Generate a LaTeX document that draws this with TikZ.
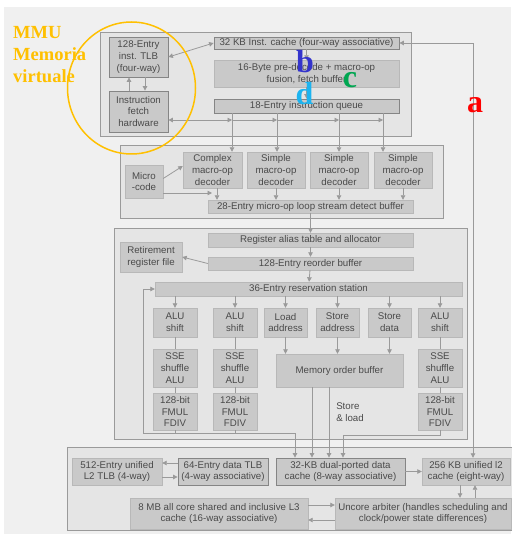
\documentclass[tikz,border=0pt]{standalone}
\usepackage{fontspec}
\setmainfont{Liberation Sans}
\newfontfamily\lettersfont{Liberation Serif}
\usepackage{tikz}
\usetikzlibrary{shapes,arrows.meta,positioning}
\definecolor{boxgray}{HTML}{C9C9C9}
\definecolor{framegray}{HTML}{E5E5E5}
\definecolor{linegray}{HTML}{9A9A9A}
\definecolor{inkgray}{HTML}{4A4A4A}
\definecolor{pagegray}{HTML}{F0F0F0}
\definecolor{mmuyellow}{HTML}{FFC000}
\definecolor{tagblue}{HTML}{3434CC}
\definecolor{taggreen}{HTML}{00A651}
\definecolor{tagcyan}{HTML}{1CB4F0}
\tikzstyle{block} = [rectangle, draw=linegray!70, fill=boxgray, text=inkgray, align=center, inner sep=0pt, font=\fontsize{9.7}{11.7}\selectfont]
\tikzstyle{edged} = [draw=black!48, line width=0.8pt]
\tikzstyle{frame} = [rectangle, draw=linegray, fill=framegray, line width=0.6pt, inner sep=0pt]
\tikzstyle{line} = [draw=linegray, line width=0.8pt, ->]
\tikzstyle{link} = [draw=linegray, line width=0.8pt]
\tikzstyle{tag} = [font=\lettersfont\bfseries\fontsize{32}{32}\selectfont, anchor=base, inner sep=0pt]

\begin{document}
\begin{tikzpicture}[x=1pt, y=-1pt, >={Triangle[length=4.5pt,width=4.5pt]}]
	\fill [white] (0,0) rectangle (511,534);
	\fill [pagegray] (4,7) rectangle (511,534);
	\useasboundingbox (0,0) rectangle (511,534);
	% Place nodes
	\node [frame, minimum width=311pt, minimum height=104pt] (fetchunit) at (255.5,84) {};
	\node [block, edged, minimum width=59pt, minimum height=40pt] (itlb) at (138.5,57) {128-Entry\\inst. TLB\\(four-way)};
	\node [block, edged, minimum width=59pt, minimum height=41pt] (ifetch) at (138.5,111.5) {Instruction\\fetch\\hardware};
	\node [block, edged, minimum width=185pt, minimum height=12pt] (icache) at (306.5,43) {32 KB Inst. cache (four-way associative)};
	\node [block, minimum width=185pt, minimum height=27pt] (predecode) at (306.5,73.5) {16-Byte pre-decode + macro-op\\fusion, fetch buffer};
	\node [block, edged, minimum width=185pt, minimum height=14pt] (iqueue) at (306.5,106) {18-Entry instruction queue};
	\node [frame, minimum width=323pt, minimum height=73pt] (decodeunit) at (281.5,181.5) {};
	\node [block, minimum width=38pt, minimum height=33pt] (ucode) at (144,181.5) {Micro\\-code};
	\node [block, minimum width=59pt, minimum height=36pt] (cdec) at (212.5,170) {Complex\\macro-op\\decoder};
	\node [block, minimum width=58pt, minimum height=36pt] (sdeca) at (276,170) {Simple\\macro-op\\decoder};
	\node [block, minimum width=58pt, minimum height=36pt] (sdecb) at (339,170) {Simple\\macro-op\\decoder};
	\node [block, minimum width=58pt, minimum height=36pt] (sdecc) at (403,170) {Simple\\macro-op\\decoder};
	\node [block, minimum width=205pt, minimum height=13pt] (lsd) at (310.5,206.5) {28-Entry micro-op loop stream detect buffer};
	\node [frame, minimum width=353pt, minimum height=211pt] (oooengine) at (290.5,333.5) {};
	\node [block, minimum width=205pt, minimum height=14pt] (rat) at (310.5,240) {Register alias table and allocator};
	\node [block, minimum width=62pt, minimum height=30pt] (rrf) at (151,257) {Retirement\\register file};
	\node [block, minimum width=205pt, minimum height=13pt] (rob) at (310.5,263.5) {128-Entry reorder buffer};
	\node [block, minimum width=307pt, minimum height=14pt] (rs) at (308.5,289) {36-Entry reservation station};
	\node [block, minimum width=44pt, minimum height=29pt] (alua) at (175,322.5) {ALU\\shift};
	\node [block, minimum width=44pt, minimum height=29pt] (alub) at (235,322.5) {ALU\\shift};
	\node [block, minimum width=43pt, minimum height=29pt] (ldaddr) at (285.5,322.5) {Load\\address};
	\node [block, minimum width=43pt, minimum height=29pt] (staddr) at (337.5,322.5) {Store\\address};
	\node [block, minimum width=43pt, minimum height=29pt] (stdata) at (389.5,322.5) {Store\\data};
	\node [block, minimum width=44pt, minimum height=29pt] (aluc) at (440,322.5) {ALU\\shift};
	\node [block, minimum width=44pt, minimum height=38pt] (ssea) at (175,368) {SSE\\shuffle\\ALU};
	\node [block, minimum width=44pt, minimum height=38pt] (sseb) at (235,368) {SSE\\shuffle\\ALU};
	\node [block, minimum width=44pt, minimum height=38pt] (ssec) at (440,368) {SSE\\shuffle\\ALU};
	\node [block, minimum width=127pt, minimum height=33pt] (mob) at (339.5,370.5) {Memory order buffer};
	\node [block, minimum width=44pt, minimum height=37pt] (fdiva) at (175,411.5) {128-bit\\FMUL\\FDIV};
	\node [block, minimum width=44pt, minimum height=37pt] (fdivb) at (235,411.5) {128-bit\\FMUL\\FDIV};
	\node [block, minimum width=44pt, minimum height=37pt] (fdivc) at (440,411.5) {128-bit\\FMUL\\FDIV};
	\node [align=left, text=inkgray, inner sep=0pt, font=\fontsize{9.7}{11.7}\selectfont] (storeload) at (350,412) {Store\\\& load};
	\node [frame, minimum width=446pt, minimum height=83pt] (memunit) at (290,488.5) {};
	\node [block, minimum width=90pt, minimum height=27pt] (ltlb) at (117,471.5) {512-Entry unified\\L2 TLB (4-way)};
	\node [block, edged, minimum width=90pt, minimum height=27pt] (dtlb) at (223,471.5) {64-Entry data TLB\\(4-way associative)};
	\node [block, edged, minimum width=129pt, minimum height=27pt] (dcache) at (340.5,471.5) {32-KB dual-ported data\\cache (8-way associative)};
	\node [block, minimum width=88pt, minimum height=27pt] (ltwo) at (466,471.5) {256 KB unified l2\\cache (eight-way)};
	\node [block, minimum width=178pt, minimum height=31pt] (lthree) at (219,513.5) {8 MB all core shared and inclusive L3\\cache (16-way associative)};
	\node [block, minimum width=176pt, minimum height=31pt] (uncore) at (423,513.5) {Uncore arbiter (handles scheduling and\\clock/power state differences)};
	\coordinate (cra) at (232,120);
	\coordinate (crb) at (277,120);
	\coordinate (crc) at (339,120);
	\coordinate (crd) at (383,120);
	\coordinate (useq) at (212,193);
	\coordinate (lpc) at (143,433);
	\coordinate (rpc) at (343,435);
	\coordinate (acorner) at (473,43);
	% Draw edges
	\path [line, <->] (itlb.east) -- (icache.west);
	\path [line] ([xshift=-9.5pt]ifetch.north) -- ([xshift=-9.5pt]itlb.south);
	\path [line] ([xshift=6.5pt]itlb.south) -- ([xshift=6.5pt]ifetch.north);
	\path [line] (icache) -- (predecode);
	\path [line] (predecode) -- (iqueue);
	\path [line, <->] (ifetch.east |- cra) -- (cra);
	\path [line] (cra) -- (crb);
	\path [line] (crb) -- (crc);
	\path [line] (crc) -- (crd);
	\path [line] (iqueue.south -| cra) -- (cdec.north -| cra);
	\path [line] (iqueue.south -| crb) -- (sdeca.north -| crb);
	\path [line] (iqueue.south -| crc) -- (sdecb.north -| crc);
	\path [line] (iqueue.south -| crd) -- (sdecc.north -| crd);
	\path [line] ([yshift=3pt]ucode.east) -- ([yshift=4pt]cdec.west);
	\path [line] (ucode.east |- useq) -- (useq);
	\path [line] ([xshift=4.5pt]cdec.south) -- ([xshift=4.5pt]cdec.south |- lsd.north);
	\path [line] (sdeca.south) -- (sdeca.south |- lsd.north);
	\path [line] (sdecb.south) -- (sdecb.south |- lsd.north);
	\path [line] (sdecc.south) -- (sdecc.south |- lsd.north);
	\path [line] (lsd) -- (rat);
	\path [line] (rat) -- (rob);
	\path [line] (rob.west) -- (rrf.east);
	\path [line] (rob) -- (rs);
	\foreach \unit in {alua, alub, ldaddr, staddr, stdata, aluc}
		\path [line] (rs.south -| \unit) -- (\unit);
	\foreach \unit in {ldaddr, staddr, stdata}
		\path [line] (\unit) -- (\unit |- mob.north);
	\path [link] (alua) -- (ssea) -- (fdiva);
	\path [link] (alub) -- (sseb) -- (fdivb);
	\path [link] (aluc) -- (ssec) -- (fdivc);
	\path [line, <->] (rs.west) -| (lpc) -| ([xshift=-45.5pt]dcache.north);
	\path [link] (fdiva.south) -- (fdiva.south |- lpc);
	\path [link] (fdivb.south) -- (fdivb.south |- lpc);
	\path [line] (fdivc.south) |- (rpc) -- (rpc |- dcache.north);
	\path [line] ([xshift=-27.5pt]mob.south) -- ([xshift=-27.5pt]mob.south |- dcache.north);
	\path [line] ([xshift=-10.5pt]mob.south) -- ([xshift=-10.5pt]mob.south |- dcache.north);
	\path [line, <->] (icache.east) -- (acorner) -- (acorner |- ltwo.north);
	\path [line] ([yshift=8.5pt]dtlb.west) -- ([yshift=8.5pt]dtlb.west -| ltlb.east);
	\path [line] ([yshift=-5.5pt]ltlb.east) -- ([yshift=-5.5pt]ltlb.east -| dtlb.west);
	\path [line] (dcache) -- (ltwo);
	\path [line] ([xshift=-6pt]ltwo.south) -- ([xshift=-6pt]ltwo.south |- uncore.north);
	\path [line] ([xshift=9pt]ltwo.south |- uncore.north) -- ([xshift=9pt]ltwo.south);
	\path [line] ([yshift=8.5pt]lthree.east) -- ([yshift=8.5pt]lthree.east -| uncore.west);
	\path [line] ([yshift=-6.5pt]uncore.west) -- ([yshift=-6.5pt]uncore.west -| lthree.east);
	% MMU note and letters
	\draw [mmuyellow, line width=1.5pt] (131.5,88) ellipse [x radius=64pt, y radius=66pt];
	\node [anchor=north west, align=left, text=mmuyellow, inner sep=0pt, font=\lettersfont\bfseries\fontsize{18.5}{22}\selectfont] (mmulabel) at (13,26) {MMU\\Memoria\\virtuale};
	\node [tag, text=red] (taga) at (475,113) {a};
	\node [tag, text=tagblue] (tagb) at (305,73) {b};
	\node [tag, text=taggreen] (tagc) at (350,88) {c};
	\node [tag, text=tagcyan] (tagd) at (304.5,105) {d};
\end{tikzpicture}
\end{document}
